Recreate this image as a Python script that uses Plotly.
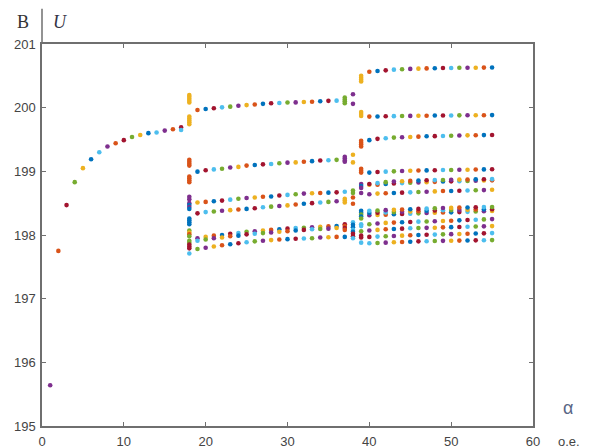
import plotly.graph_objects as go

# ---------------- data ----------------
# Region 1: single-valued regime, alpha = 1..17
alpha_r1 = list(range(1, 18))
u_r1 = [195.64, 197.75, 198.47, 198.83, 199.05, 199.19, 199.30, 199.39, 199.44,
        199.49, 199.54, 199.57, 199.60, 199.61, 199.64, 199.66, 199.69]
alpha_r1_extra = [17]
u_r1_extra = [199.65]

# Region 2: branches, alpha = 19..36
alpha_r2 = list(range(19, 37))
u2_A = [199.963, 199.98, 199.99, 200.005, 200.016, 200.03, 200.04, 200.05, 200.06,
        200.07, 200.073, 200.08, 200.083, 200.09, 200.093, 200.10, 200.107, 200.11]
u2_B = [198.995, 199.016, 199.03, 199.04, 199.06, 199.07, 199.09, 199.10, 199.11,
        199.115, 199.126, 199.136, 199.14, 199.15, 199.16, 199.17, 199.175, 199.18]
u2_C = [198.51, 198.52, 198.53, 198.54, 198.555, 198.57, 198.58, 198.59, 198.60,
        198.605, 198.62, 198.63, 198.64, 198.65, 198.655, 198.66, 198.665, 198.67]
u2_D = [198.34, 198.36, 198.37, 198.38, 198.39, 198.40, 198.41, 198.42, 198.435,
        198.445, 198.455, 198.465, 198.48, 198.49, 198.50, 198.51, 198.52, 198.53]
u2_E1 = [197.95, 197.97, 197.99, 198.00, 198.02, 198.03, 198.05, 198.06, 198.07,
         198.08, 198.09, 198.10, 198.11, 198.115, 198.12, 198.13, 198.135, 198.14]
u2_E2 = [197.91, 197.93, 197.95, 197.96, 197.98, 197.99, 198.01, 198.02, 198.03,
         198.04, 198.05, 198.06, 198.07, 198.08, 198.09, 198.095, 198.10, 198.11]
u2_F = [197.78, 197.80, 197.82, 197.84, 197.855, 197.87, 197.885, 197.90, 197.91,
        197.92, 197.93, 197.935, 197.94, 197.945, 197.95, 197.96, 197.965, 197.97]

# Region 3: branches, alpha = 40..55
alpha_r3 = list(range(40, 56))
u3_R1 = [200.565, 200.576, 200.586, 200.597, 200.604, 200.609, 200.613, 200.617,
         200.620, 200.622, 200.624, 200.626, 200.627, 200.628, 200.629, 200.630]
u3_R2 = [199.86, 199.862, 199.865, 199.867, 199.869, 199.871, 199.873, 199.874,
         199.876, 199.877, 199.878, 199.879, 199.880, 199.881, 199.882, 199.883]
u3_R3 = [199.49, 199.51, 199.52, 199.53, 199.535, 199.54, 199.545, 199.55,
         199.553, 199.556, 199.559, 199.562, 199.565, 199.567, 199.569, 199.571]
u3_R4 = [198.98, 198.99, 198.995, 199.0, 199.005, 199.01, 199.012, 199.015,
         199.018, 199.02, 199.022, 199.024, 199.026, 199.028, 199.03, 199.032]
u3_R5a = [198.80, 198.815, 198.83, 198.84, 198.845, 198.85, 198.855, 198.86,
          198.862, 198.865, 198.868, 198.87, 198.872, 198.874, 198.876, 198.878]
u3_R5b = [198.79, 198.79, 198.80, 198.81, 198.815, 198.82, 198.825, 198.83,
          198.835, 198.84, 198.843, 198.846, 198.849, 198.852, 198.855, 198.858]
u3_R6 = [198.64, 198.65, 198.655, 198.66, 198.665, 198.67, 198.675, 198.68,
         198.685, 198.69, 198.692, 198.695, 198.70, 198.702, 198.705, 198.71]
u3_R7a = [198.38, 198.385, 198.39, 198.395, 198.40, 198.405, 198.41, 198.415,
          198.42, 198.423, 198.426, 198.43, 198.433, 198.436, 198.438, 198.44]
u3_R7m = [198.345, 198.35, 198.355, 198.36, 198.365, 198.37, 198.375, 198.38,
          198.385, 198.388, 198.391, 198.394, 198.397, 198.40, 198.403, 198.406]
u3_R7b = [198.31, 198.315, 198.32, 198.325, 198.33, 198.335, 198.34, 198.345,
          198.35, 198.353, 198.356, 198.36, 198.364, 198.368, 198.372, 198.376]
u3_R8 = [198.17, 198.18, 198.19, 198.195, 198.20, 198.205, 198.21, 198.212,
         198.215, 198.22, 198.225, 198.23, 198.235, 198.24, 198.245, 198.25]
u3_R9 = [198.07, 198.08, 198.09, 198.095, 198.10, 198.105, 198.11, 198.112,
         198.115, 198.12, 198.123, 198.126, 198.13, 198.133, 198.136, 198.14]
u3_R10 = [197.97, 197.975, 197.98, 197.985, 197.99, 197.995, 198.0, 198.003,
          198.006, 198.01, 198.013, 198.016, 198.02, 198.023, 198.026, 198.03]
u3_R11 = [197.87, 197.875, 197.88, 197.885, 197.89, 197.895, 197.90, 197.902,
          197.905, 197.908, 197.91, 197.912, 197.914, 197.916, 197.918, 197.92]

# Transition columns (several close values at one alpha)
u_a18 = [200.20, 200.17, 200.14, 200.11, 200.08, 199.86, 199.83, 199.80, 199.77, 199.74,
         199.18, 199.15, 199.12, 199.09, 198.92, 198.89, 198.86, 198.83,
         198.60, 198.56, 198.50, 198.47, 198.44, 198.41, 198.26, 198.23, 198.20, 198.17,
         198.07, 198.04, 198.01, 197.98, 197.91, 197.88, 197.85, 197.82, 197.79, 197.71]
u_a37 = [200.16, 200.13, 200.10, 200.07, 199.23, 199.20, 199.17, 199.15, 198.68,
         198.57, 198.54, 198.51, 198.17, 198.14, 198.11, 198.08, 197.97]
u_a38 = [200.21, 200.06, 199.26, 199.14, 198.70, 198.66, 198.59, 198.49, 198.20,
         198.16, 198.12, 198.08, 198.05, 198.02, 197.98, 197.95]
u_a39 = [200.50, 200.47, 200.44, 200.41, 199.93, 199.90, 199.87, 199.48, 199.45,
         199.42, 199.39, 199.04, 199.01, 198.98, 198.80, 198.77, 198.74, 198.66,
         198.38, 198.35, 198.32, 198.29, 198.26, 198.17, 198.14, 198.06, 197.99,
         197.96, 197.88]

x_ticks = [0, 10, 20, 30, 40, 50, 60]
y_ticks = [195, 196, 197, 198, 199, 200, 201]

# ---------------- styles ----------------
PALETTE = ["#0072BD", "#D95319", "#EDB120", "#7E2F8E", "#77AC30", "#4DBEEE", "#A2142F"]
AX = "#6f6f6f"
TXT = "#444444"
MS = 4.6

def cyc(start, step, n):
    return [PALETTE[(start + step * i) % 7] for i in range(n)]

c_a18 = [2] * 10 + [1] * 8 + [3, 3, 3, 0, 3, 0] + [0] * 4 + [4, 2, 1, 4] + [4, 4] + [6, 6, 6] + [5]
c_a37 = [4] * 4 + [3] * 4 + [5] + [2] * 3 + [6, 1, 6, 1] + [0]
c_a38 = [3, 3, 2, 2, 4, 4, 1, 1, 5, 0, 0, 5, 0, 6, 6, 5]
c_a39 = [2] * 7 + [1] * 7 + [3, 0, 3, 3] + [0, 0, 4, 0, 4] + [5, 5, 4, 6, 6, 5]

fig = go.Figure()

def add(xs, ys, colors):
    fig.add_trace(go.Scatter(x=xs, y=ys, mode="markers", showlegend=False,
                             hoverinfo="skip", cliponaxis=False,
                             marker=dict(size=MS, color=colors, line=dict(width=0))))

add(alpha_r1, u_r1, cyc(3, -2, len(alpha_r1)))
add(alpha_r1_extra, u_r1_extra, [PALETTE[5]])

for vals, c0 in [(u2_A, 1), (u2_B, 0), (u2_C, 2), (u2_D, 6), (u2_E1, 3), (u2_E2, 5), (u2_F, 4)]:
    add(alpha_r2, vals, cyc(c0, -1, len(alpha_r2)))

for vals, c0 in [(u3_R1, 1), (u3_R2, 1), (u3_R3, 0), (u3_R4, 0), (u3_R5b, 2), (u3_R5a, 6),
                 (u3_R6, 3), (u3_R7b, 3), (u3_R7m, 0), (u3_R7a, 5), (u3_R8, 4), (u3_R9, 3),
                 (u3_R10, 6), (u3_R11, 5)]:
    add(alpha_r3, vals, cyc(c0, -1, len(alpha_r3)))

for a, vals, cs in [(18, u_a18, c_a18), (37, u_a37, c_a37), (38, u_a38, c_a38), (39, u_a39, c_a39)]:
    add([a] * len(vals), vals, [PALETTE[k] for k in cs])

axis_common = dict(showline=True, linecolor=AX, linewidth=1.5, mirror="ticks",
                   ticks="inside", ticklen=4, tickwidth=1, tickcolor=AX,
                   showgrid=False, zeroline=False, automargin=False,
                   tickfont=dict(family="Liberation Sans, Arial, sans-serif", size=13, color=TXT))

# the page body adds an 8 px offset; margins are chosen so the plot box
# lands at x 42..533, y 44..426 in the browser window
fig.update_layout(
    width=592, height=448, autosize=False,
    margin=dict(l=34, r=67, t=36, b=30, autoexpand=False),
    paper_bgcolor="white", plot_bgcolor="white",
    xaxis=dict(range=[0, 60], tickvals=x_ticks, ticktext=[str(v) for v in x_ticks],
               ticklabelstandoff=3, **axis_common),
    yaxis=dict(range=[195, 201], tickvals=y_ticks, ticktext=[str(v) for v in y_ticks],
               ticklabelstandoff=2, **axis_common),
)

# y axis line extends above the box
fig.add_shape(type="line", xref="paper", yref="paper", x0=0, x1=0, y0=1, y1=1.092,
              line=dict(color=AX, width=1.5))

serif = "Liberation Serif, Times New Roman, serif"
ann = dict(xref="paper", yref="paper", showarrow=False, xanchor="center", yanchor="middle")
fig.add_annotation(text="В", x=-0.0387, y=1.0576,
                   font=dict(family=serif, size=18, color="#333333"), **ann)
fig.add_annotation(text="<i>U</i>", x=0.0367, y=1.0576,
                   font=dict(family=serif, size=18, color="#333344"), **ann)
fig.add_annotation(text="α", x=1.0713, y=0.0471,
                   font=dict(family="Liberation Sans, Arial", size=18, color="#5a6685"), **ann)
fig.add_annotation(text="о.е.", x=1.0733, y=-0.040,
                   font=dict(family="Liberation Sans, Arial", size=13, color=TXT), **ann)

fig.write_html("out.html")
